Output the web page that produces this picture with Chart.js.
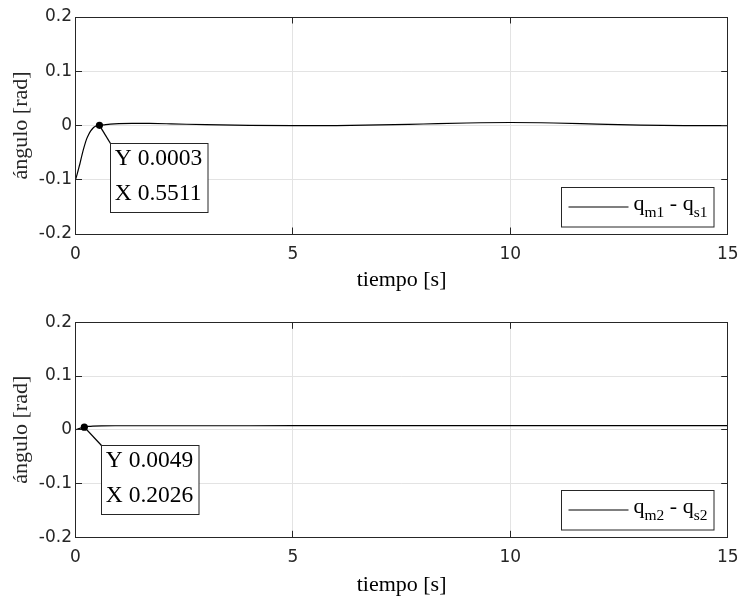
<!DOCTYPE html>
<html>
<head>
<meta charset="utf-8">
<script src="https://cdn.jsdelivr.net/npm/chart.js@4/dist/chart.umd.min.js"></script>
<style>
html,body{margin:0;padding:0;background:#ffffff;}
#wrap{position:relative;width:742px;height:600px;overflow:hidden;}
canvas{position:absolute;left:0;}
</style>
</head>
<body>
<div id="wrap">
<canvas id="c1" width="742" height="300" style="top:0px"></canvas>
<canvas id="c2" width="742" height="300" style="top:300px"></canvas>
</div>
<script>
// ---------------- data ----------------
const time1 = [0, 0.03, 0.06, 0.1, 0.15, 0.2, 0.25, 0.3, 0.35, 0.4, 0.45, 0.5, 0.5511, 0.65, 0.8, 1.0, 1.3, 1.7, 2.2, 3, 4, 5, 6, 7, 8, 9, 10, 11, 12, 13, 14, 15];
const diff1 = [-0.1, -0.092, -0.083, -0.071, -0.054, -0.039, -0.026, -0.017, -0.010, -0.005, -0.002, -0.0003, 0.0003, 0.0012, 0.0025, 0.0035, 0.004, 0.0038, 0.003, 0.0015, 0.0002, -0.0004, -0.0002, 0.001, 0.0028, 0.0046, 0.0055, 0.0046, 0.0026, 0.0008, -0.0001, -0.0003];

const time2 = [0, 0.05, 0.1, 0.15, 0.2026, 0.3, 0.4, 0.6, 1, 2, 3, 5, 7, 10, 12, 15];
const diff2 = [0, 0.0014, 0.0027, 0.0039, 0.0049, 0.0063, 0.007, 0.0074, 0.0075, 0.0075, 0.0075, 0.0076, 0.0076, 0.0077, 0.0077, 0.0077];

const tip1 = [0.5511, 0.0003];
const tip2 = [0.2026, 0.0049];

const legend1 = [['q', 0], ['m1', 1], [' - ', 0], ['q', 0], ['s1', 1]];
const legend2 = [['q', 0], ['m2', 1], [' - ', 0], ['q', 0], ['s2', 1]];

const xTicks = [0, 5, 10, 15];
const yTicks = [-0.2, -0.1, 0, 0.1, 0.2];
const xTickLabels = ['0', '5', '10', '15'];
const yTickLabels = ['-0.2', '-0.1', '0', '0.1', '0.2'];
const xTitle = 'tiempo [s]';
const yTitle = 'ángulo [rad]';

// ---------------- styling ----------------
const AX = '#262626';
const GRID = '#e3e3e3';
const SERIF = '"Liberation Serif", "Times New Roman", serif';
const SANS = '"DejaVu Sans", Verdana, sans-serif';

function ap(p) { return Math.round(p - 0.5) + 0.5; }

const decor = {
  id: 'decor',
  afterDatasetsDraw(chart, args, o) {
    const ctx = chart.ctx, a = chart.chartArea;
    const xs = chart.scales.x, ys = chart.scales.y;
    ctx.save();
    // inside tick marks
    ctx.strokeStyle = AX; ctx.lineWidth = 1;
    const tl = 6.5;
    ctx.beginPath();
    xTicks.forEach(v => {
      const px = ap(xs.getPixelForValue(v));
      ctx.moveTo(px, a.bottom); ctx.lineTo(px, a.bottom - tl);
      ctx.moveTo(px, a.top); ctx.lineTo(px, a.top + tl);
    });
    yTicks.forEach(v => {
      const py = ap(ys.getPixelForValue(v));
      ctx.moveTo(a.left, py); ctx.lineTo(a.left + tl, py);
      ctx.moveTo(a.right, py); ctx.lineTo(a.right - tl, py);
    });
    ctx.stroke();
    // box frame
    const L = ap(a.left), R = ap(a.right), T = ap(a.top), B = ap(a.bottom);
    ctx.strokeRect(L, T, R - L, B - T);

    // legend
    const bw = 152.5, bh = 39.5;
    const bx = ap(a.right - 14 - bw), by = ap(a.bottom - 7.3 - bh);
    ctx.fillStyle = '#ffffff';
    ctx.fillRect(bx, by, bw, bh);
    ctx.strokeStyle = AX; ctx.lineWidth = 1;
    ctx.strokeRect(bx, by, bw, bh);
    ctx.strokeStyle = '#000000'; ctx.lineWidth = 1.1;
    ctx.beginPath();
    ctx.moveTo(bx + 7, by + 19.5); ctx.lineTo(bx + 67, by + 19.5);
    ctx.stroke();
    let tx = bx + 72;
    const base = by + 22.3;
    ctx.fillStyle = '#000000';
    ctx.textAlign = 'left'; ctx.textBaseline = 'alphabetic';
    o.legend.forEach(([t, sub]) => {
      ctx.font = sub ? '15.5px ' + SERIF : '22px ' + SERIF;
      ctx.fillText(t, tx, sub ? base + 7.5 : base);
      tx += ctx.measureText(t).width;
    });

    // data tip
    const [vx, vy] = o.tip;
    const mx = xs.getPixelForValue(vx), my = ys.getPixelForValue(vy);
    const cx = ap(mx + o.tipOff[0]), cy = ap(my + o.tipOff[1]);
    ctx.strokeStyle = '#000000'; ctx.lineWidth = 1.3;
    ctx.beginPath(); ctx.moveTo(mx, my); ctx.lineTo(cx, cy); ctx.stroke();
    const tw = 97.5, th = 69;
    ctx.fillStyle = '#ffffff';
    ctx.fillRect(cx, cy, tw, th);
    ctx.strokeStyle = AX; ctx.lineWidth = 1;
    ctx.strokeRect(cx, cy, tw, th);
    ctx.fillStyle = '#000000';
    ctx.beginPath(); ctx.arc(mx, my, 3.6, 0, Math.PI * 2); ctx.fill();
    ctx.font = '23.5px ' + SERIF;
    ctx.textBaseline = 'middle';
    ctx.fillText('Y ' + vy.toFixed(4), cx + 4.3, cy + 15);
    ctx.fillText('X ' + vx.toFixed(4), cx + 4.3, cy + 50.5);
    ctx.restore();
  }
};

function makeChart(id, time, vals, tip, legend, g) {
  const pts = time.map((t, i) => ({ x: t, y: vals[i] }));
  return new Chart(document.getElementById(id), {
    type: 'line',
    data: { datasets: [{
      data: pts,
      borderColor: '#000000',
      borderWidth: 1.2,
      pointRadius: 0,
      cubicInterpolationMode: 'monotone',
      fill: false
    }] },
    options: {
      responsive: false,
      animation: false,
      devicePixelRatio: 1,
      events: [],
      layout: { padding: { top: g.padTop, right: 14.3, left: 0, bottom: 0 } },
      plugins: {
        legend: { display: false },
        tooltip: { enabled: false },
        decor: { tip: tip, legend: legend, tipOff: g.tipOff }
      },
      scales: {
        x: {
          type: 'linear', min: 0, max: 15,
          afterBuildTicks(s) { s.ticks = xTicks.map(v => ({ value: v })); },
          afterFit(s) { s.height = g.xh; s.paddingLeft = 0; s.paddingRight = 0; },
          grid: { color: GRID, lineWidth: 1, drawTicks: false },
          border: { display: false },
          ticks: {
            padding: g.tickPad, maxRotation: 0, autoSkip: false,
            color: AX, font: { family: SANS, size: 17 },
            callback: (v) => xTickLabels[xTicks.indexOf(v)]
          },
          title: { display: true, text: xTitle, color: '#000000',
                   font: { family: SERIF, size: 22 }, padding: { top: 0, bottom: g.titlePad } }
        },
        y: {
          type: 'linear', min: -0.2, max: 0.2,
          afterBuildTicks(s) { s.ticks = yTicks.map(v => ({ value: v })); },
          afterFit(s) { s.width = 75.5; s.paddingTop = 0; s.paddingBottom = 0; },
          grid: { color: GRID, lineWidth: 1, drawTicks: false },
          border: { display: false },
          ticks: {
            padding: 3.5, autoSkip: false,
            color: AX, font: { family: SANS, size: 17 },
            callback: (v) => {
              const i = yTicks.findIndex(t => Math.abs(t - v) < 1e-9);
              return i >= 0 ? yTickLabels[i] : '';
            }
          },
          title: { display: true, text: yTitle, color: AX,
                   font: { family: SERIF, size: 22 }, padding: { top: 8.3, bottom: 0 } }
        }
      }
    },
    plugins: [decor]
  });
}

makeChart('c1', time1, diff1, tip1, legend1,
  { padTop: 17, xh: 66, tickPad: 10.3, titlePad: 6.7, tipOff: [11.5, 18.3] });
makeChart('c2', time2, diff2, tip2, legend2,
  { padTop: 22.3, xh: 62.7, tickPad: 10.5, titlePad: 1.6, tipOff: [17.4, 18.3] });
</script>
</body>
</html>
